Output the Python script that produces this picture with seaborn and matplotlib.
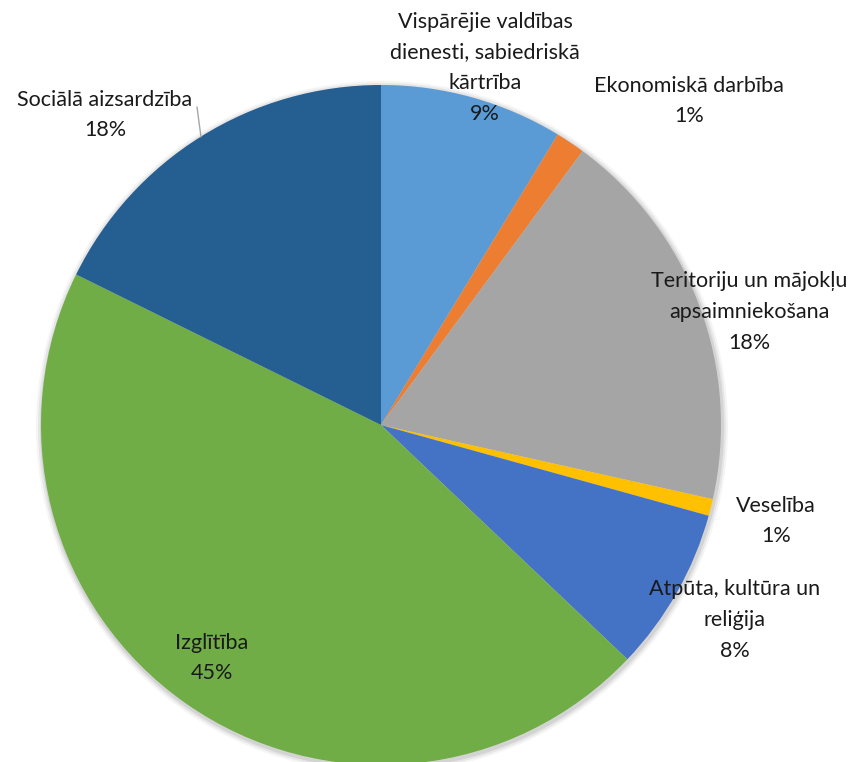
import numpy as np
import matplotlib
matplotlib.use("Agg")
import matplotlib.pyplot as plt
import seaborn as sns

# slices, clockwise from 12 o'clock
categories = [
    "Vispārējie valdības\ndienesti, sabiedriskā\nkārtrība",
    "Ekonomiskā darbība",
    "Teritoriju un mājokļu\napsaimniekošana",
    "Veselība",
    "Atpūta, kultūra un\nreliģija",
    "Izglītība",
    "Sociālā aizsardzība",
]
shares = [8.7, 1.4, 18.4, 0.8, 7.8, 45.2, 17.7]
colors = ["#5B9BD5", "#ED7D31", "#A5A5A5", "#FFC000", "#4472C4", "#70AD47", "#255E91"]

# label centres in pixel coords (x, y from top)
label_pos = [(485, 68), (689, 101), (749, 312), (776, 521), (735, 620), (212, 658), (105, 115)]

sns.set_theme(style="white")
plt.rcParams['font.family'] = ['Lato', 'DejaVu Sans']

W, H = 853, 762
fig = plt.figure(figsize=(W / 100, H / 100), dpi=100)
ax = fig.add_axes([0, 0, 1, 1])

cx, cy, r = 381, H - 425, 340

# faint halo standing in for the soft shadow
for k, a in zip([6, 4, 2], [0.04, 0.06, 0.08]):
    ax.add_patch(plt.Circle((cx + 1, cy - 2), r + k, color="black", alpha=a, lw=0))

wedges, _ = ax.pie(shares, colors=colors, startangle=90, counterclock=False,
                   center=(cx, cy), radius=r, frame=True,
                   wedgeprops=dict(linewidth=0))
ax.set_xlim(0, W)
ax.set_ylim(0, H)
ax.set_aspect("equal")
ax.axis("off")

for name, val, (lx, ly) in zip(categories, shares, label_pos):
    ax.text(lx, H - ly, f"{name}\n{round(val):.0f}%", ha="center", va="center",
            fontsize=15.5, color="#1a1a1a", linespacing=1.68)

# leader line for Sociālā aizsardzība
ax.plot([197, 201], [H - 107, H - 137], color="#a6a6a6", lw=1)

fig.savefig("out.png", dpi=100)
